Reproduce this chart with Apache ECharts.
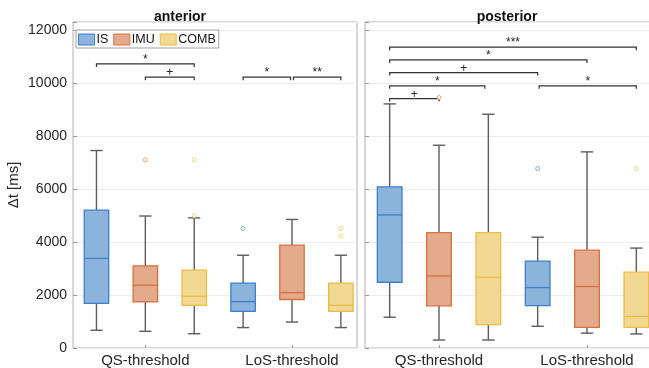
<!DOCTYPE html>
<html>
<head>
<meta charset="utf-8">
<script src="https://cdn.jsdelivr.net/npm/echarts@6/dist/echarts.min.js"></script>
<style>
  html, body { margin: 0; padding: 0; background: #fff; }
  #main { width: 649px; height: 368px; }
</style>
</head>
<body>
<div id="main"></div>
<script>
//////////// data ////////////
var groups = ['QS-threshold', 'LoS-threshold'];
var methods = ['IS', 'IMU', 'COMB'];
var yTicks = [0, 2000, 4000, 6000, 8000, 10000, 12000];

// [min, Q1, median, Q3, max] per group (QS, LoS)
var antIS   = [[670, 1680, 3380, 5200, 7450], [770, 1380, 1750, 2450, 3500]];
var antIMU  = [[630, 1740, 2370, 3100, 4980], [980, 1830, 2090, 3880, 4850]];
var antCOMB = [[540, 1610, 1950, 2940, 4910], [770, 1380, 1610, 2450, 3500]];
var postIS   = [[1160, 2480, 5020, 6080, 9210], [820, 1600, 2280, 3280, 4180]];
var postIMU  = [[300, 1590, 2720, 4350, 7650], [560, 780, 2320, 3690, 7400]];
var postCOMB = [[300, 880, 2670, 4350, 8820], [530, 780, 1190, 2860, 3770]];

// outliers [group, value]
var antOutIS   = [[1, 4510]];
var antOutIMU  = [[0, 7100]];
var antOutCOMB = [[0, 7100], [0, 4990], [1, 4510], [1, 4220]];
var postOutIS   = [[1, 6770]];
var postOutIMU  = [[0, 9450]];
var postOutCOMB = [[1, 6770]];

// significance brackets [from box, to box, height]
var antBrackets = [[1, 3, 10720], [2, 3, 10220], [4, 4.97, 10220], [5.03, 6, 10220]];
var antStars = ['*', '+', '*', '**'];
var postBrackets = [[1, 6, 11350], [1, 5, 10870], [1, 4, 10390], [1, 2.93, 9890], [4.03, 6, 9890], [1, 2, 9410]];
var postStars = ['***', '*', '+', '*', '*', '+'];

//////////// style ////////////
var fills = ['#8ab4dc', '#e3aa8c', '#f1d893'];
var edges = ['#3f7fc6', '#d7703f', '#ecbb45'];
var outColors = ['#5f93d4', '#e58a62', '#efc45a'];
var whisker = '#5c5c5c';
var font = '"Liberation Sans", Arial, sans-serif';
var textColor = '#262626';

var chart = echarts.init(document.getElementById('main'));

// box position: group centre 2 / 5, methods -1, 0, +1
function boxX(g, m) {
	return 2 + g * 3 + (m - 1);
}

function boxData(stats, m) {
	var arr = [];
	for (var g = 0; g < stats.length; g++) {
		arr.push([boxX(g, m)].concat(stats[g]));
	}
	return arr;
}

function outData(list, m) {
	return list.map(function(o) { return [boxX(o[0], m), o[1]]; });
}

function boxSeries(name, stats, axis, m) {
	return {
		name: name,
		type: 'custom',
		xAxisIndex: axis,
		yAxisIndex: axis,
		itemStyle: { color: fills[m], borderColor: edges[m], borderWidth: 1 },
		encode: { x: 0, y: [1, 2, 3, 4, 5] },
		data: boxData(stats, m),
		renderItem: function(params, api) {
			var x = api.value(0);
			var pMin = api.coord([x, api.value(1)]);
			var pQ1 = api.coord([x, api.value(2)]);
			var pMed = api.coord([x, api.value(3)]);
			var pQ3 = api.coord([x, api.value(4)]);
			var pMax = api.coord([x, api.value(5)]);
			var bw = api.size([0.5, 0])[0];
			var cw = bw / 2;
			var cx = pMed[0];
			var ws = { stroke: whisker, lineWidth: 1.4 };
			return {
				type: 'group',
				children: [
					{ type: 'line', shape: { x1: cx, y1: pMin[1], x2: cx, y2: pQ1[1] }, style: ws },
					{ type: 'line', shape: { x1: cx, y1: pMax[1], x2: cx, y2: pQ3[1] }, style: ws },
					{ type: 'line', shape: { x1: cx - cw / 2, y1: pMin[1], x2: cx + cw / 2, y2: pMin[1] }, style: ws },
					{ type: 'line', shape: { x1: cx - cw / 2, y1: pMax[1], x2: cx + cw / 2, y2: pMax[1] }, style: ws },
					{ type: 'rect', shape: { x: cx - bw / 2, y: pQ3[1], width: bw, height: pQ1[1] - pQ3[1] },
					  style: { fill: fills[m], stroke: edges[m], lineWidth: 1.3 } },
					{ type: 'line', shape: { x1: cx - bw / 2, y1: pMed[1], x2: cx + bw / 2, y2: pMed[1] },
					  style: { stroke: edges[m], lineWidth: 1.3 } }
				]
			};
		}
	};
}

function outlierSeries(list, axis, m) {
	return {
		type: 'scatter',
		xAxisIndex: axis,
		yAxisIndex: axis,
		symbol: 'circle',
		symbolSize: 4,
		itemStyle: { color: '#fff', borderColor: outColors[m], borderWidth: 1 },
		data: outData(list, m),
		z: 3
	};
}

function bracketSeries(list, stars, axis) {
	return {
		type: 'custom',
		xAxisIndex: axis,
		yAxisIndex: axis,
		encode: { x: [0, 1], y: 2 },
		data: list,
		renderItem: function(params, api) {
			var a = api.coord([api.value(0), api.value(2)]);
			var b = api.coord([api.value(1), api.value(2)]);
			var t = 3;
			return {
				type: 'group',
				children: [
					{ type: 'polyline',
					  shape: { points: [[a[0], a[1] + t], [a[0], a[1]], [b[0], b[1]], [b[0], b[1] + t]] },
					  style: { stroke: '#333', lineWidth: 1.2, fill: null } },
					{ type: 'text',
					  style: { text: stars[params.dataIndex], x: (a[0] + b[0]) / 2, y: a[1] + 2,
					           align: 'center', verticalAlign: 'bottom',
					           font: '12px ' + font, fill: '#222' } }
				]
			};
		}
	};
}

function xAxisFor(grid, min, max) {
	return {
		type: 'value',
		gridIndex: grid,
		min: min,
		max: max,
		axisLine: { show: false },
		splitLine: { show: false },
		axisTick: { show: true, inside: true, length: 3, customValues: [2, 5],
		            lineStyle: { color: '#999' } },
		axisLabel: {
			customValues: [2, 5],
			margin: 5,
			color: textColor,
			fontSize: 15,
			fontFamily: font,
			formatter: function(v) { return v < 3.5 ? groups[0] : groups[1]; }
		}
	};
}

function yAxisFor(grid, labels) {
	return {
		type: 'value',
		gridIndex: grid,
		min: 0,
		max: 12300,
		interval: 2000,
		name: labels ? 'Δt [ms]' : '',
		nameLocation: 'middle',
		nameGap: 52,
		nameTextStyle: { color: textColor, fontSize: 15, fontFamily: font },
		axisLine: { show: false },
		axisTick: { show: true, inside: true, length: 4, lineStyle: { color: '#999' } },
		splitLine: { show: true, lineStyle: { color: '#ececec', width: 1 } },
		axisLabel: {
			show: labels,
			margin: 6,
			color: textColor,
			fontSize: 14,
			fontFamily: font,
			formatter: function(v) { return yTicks.indexOf(v) >= 0 ? String(v) : ''; }
		}
	};
}

var series = [
	boxSeries(methods[0], antIS, 0, 0),
	boxSeries(methods[1], antIMU, 0, 1),
	boxSeries(methods[2], antCOMB, 0, 2),
	boxSeries(methods[0], postIS, 1, 0),
	boxSeries(methods[1], postIMU, 1, 1),
	boxSeries(methods[2], postCOMB, 1, 2),
	outlierSeries(antOutIS, 0, 0),
	outlierSeries(antOutIMU, 0, 1),
	outlierSeries(antOutCOMB, 0, 2),
	outlierSeries(postOutIS, 1, 0),
	outlierSeries(postOutIMU, 1, 1),
	outlierSeries(postOutCOMB, 1, 2),
	bracketSeries(antBrackets, antStars, 0),
	bracketSeries(postBrackets, postStars, 1)
];

var option = {
	backgroundColor: '#fff',
	animation: false,
	title: [
		{ text: 'anterior', left: 180, top: 10, padding: 0, textAlign: 'center',
		  textStyle: { fontSize: 14, fontWeight: 'bold', color: '#111', fontFamily: font } },
		{ text: 'posterior', left: 507, top: 10, padding: 0, textAlign: 'center',
		  textStyle: { fontSize: 14, fontWeight: 'bold', color: '#111', fontFamily: font } }
	],
	legend: {
		left: 76,
		top: 30,
		orient: 'horizontal',
		padding: [3, 3, 2, 2],
		itemGap: 5,
		itemWidth: 16,
		itemHeight: 11,
		icon: 'rect',
		borderColor: '#a0a0a0',
		borderWidth: 1,
		borderRadius: 0,
		backgroundColor: '#fff',
		textStyle: { fontSize: 12.5, color: '#111', fontFamily: font, padding: [0, 0, 0, -3] },
		data: methods.map(function(n, i) {
			return { name: n, itemStyle: { color: fills[i], borderColor: edges[i], borderWidth: 1 } };
		})
	},
	grid: [
		{ left: 73, top: 22, width: 284, height: 326, show: true, outerBoundsMode: 'none',
		  borderColor: '#b0b0b0', borderWidth: 1, backgroundColor: '#fff' },
		{ left: 365, top: 22, width: 296, height: 326, show: true, outerBoundsMode: 'none',
		  borderColor: '#b0b0b0', borderWidth: 1, backgroundColor: '#fff' }
	],
	xAxis: [xAxisFor(0, 0.52, 6.33), xAxisFor(1, 0.5, 6.5)],
	yAxis: [yAxisFor(0, true), yAxisFor(1, false)],
	series: series
};

chart.setOption(option);
</script>
</body>
</html>
